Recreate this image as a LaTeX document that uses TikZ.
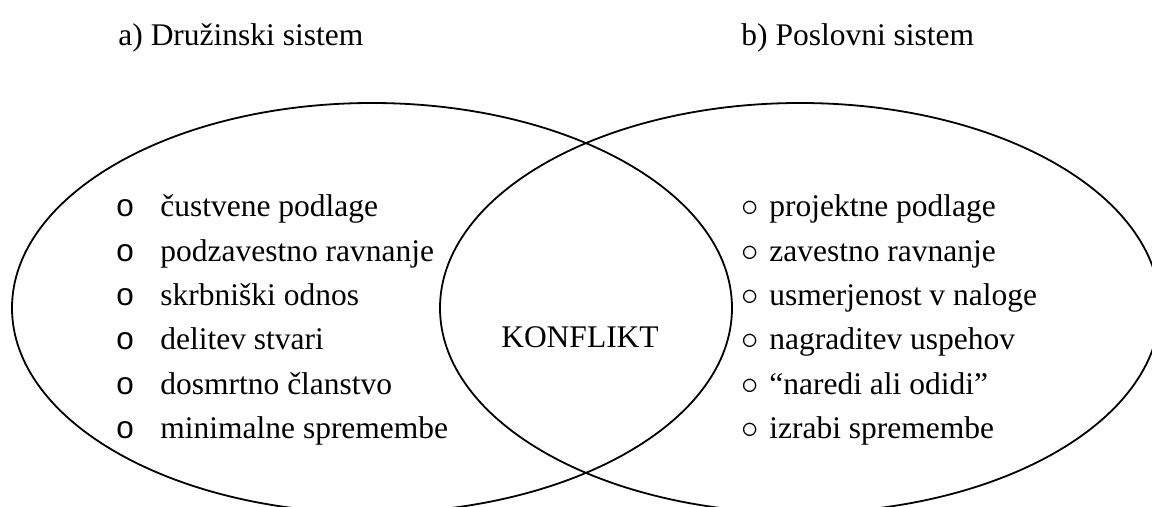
\documentclass[tikz,border=0pt]{standalone}
\usepackage{fontspec}
\setmainfont{Liberation Serif}
\newfontfamily\bulletfont{Liberation Sans}
\usepackage{tikz}

\begin{document}
\begin{tikzpicture}[x=0.5pt,y=-0.5pt,every node/.style={inner sep=0pt,font=\fontsize{15.75}{22.15}\selectfont}]
        \useasboundingbox (0,0) rectangle (1152,507);
        \clip (0,0) rectangle (1152,507);
        \draw[line width=0.9pt] (372,308) ellipse [x radius=360,y radius=205];
        \draw[line width=0.9pt] (800,308) ellipse [x radius=360,y radius=205];
        \node[anchor=base west] (naslovA) at (118,46) {a) Družinski sistem};
        \node[anchor=base west] (naslovB) at (741,46) {b) Poslovni sistem};
        \node[anchor=base west] (druzina) at (116,217) {\begin{tabular}[t]{@{}p{22pt}@{}l@{}}
        {\bulletfont o}&čustvene podlage\\
        {\bulletfont o}&podzavestno ravnanje\\
        {\bulletfont o}&skrbniški odnos\\
        {\bulletfont o}&delitev stvari\\
        {\bulletfont o}&dosmrtno članstvo\\
        {\bulletfont o}&minimalne spremembe
        \end{tabular}};
        \node[anchor=base] (konflikt) at (580,348) {KONFLIKT};
        \node[anchor=base west] (posel) at (741,217) {\begin{tabular}[t]{@{}p{14pt}@{}l@{}}
        {\fontsize{19}{22}\selectfont$\circ$}&projektne podlage\\
        {\fontsize{19}{22}\selectfont$\circ$}&zavestno ravnanje\\
        {\fontsize{19}{22}\selectfont$\circ$}&usmerjenost v naloge\\
        {\fontsize{19}{22}\selectfont$\circ$}&nagraditev uspehov\\
        {\fontsize{19}{22}\selectfont$\circ$}&``naredi ali odidi''\\
        {\fontsize{19}{22}\selectfont$\circ$}&izrabi spremembe
        \end{tabular}};
\end{tikzpicture}
\end{document}
